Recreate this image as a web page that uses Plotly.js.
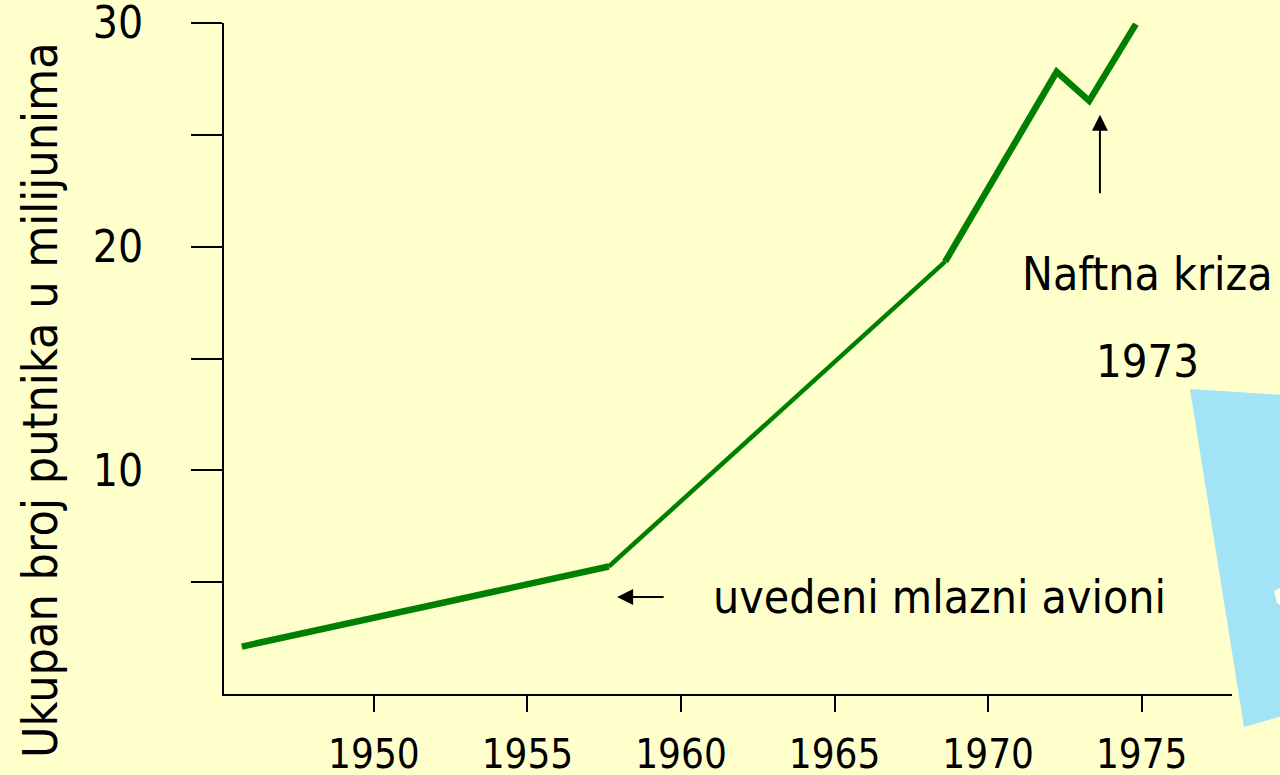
<!DOCTYPE html>
<html>
<head>
<meta charset="utf-8">
<script src="https://cdn.plot.ly/plotly-3.0.1.min.js"></script>
<style>
  html, body { margin: 0; padding: 0; background: #FFFFCC; }
  #chart { width: 1280px; height: 775px; }
</style>
</head>
<body>
<div id="chart"></div>
<script>
// ---- data ----
const years = [1945.7, 1957.65, 1968.6, 1972.23, 1973.29, 1974.81];
const passengers = [2.12, 5.7, 19.33, 27.82, 26.52, 29.95];   // millions
const xTickVals = [1950, 1955, 1960, 1965, 1970, 1975];
const xTickText = ['1950', '1955', '1960', '1965', '1970', '1975'];
const yTickVals = [5, 10, 15, 20, 25, 30];
const yTickText = ['', '10', '', '20', '', '30'];
const yTitle = 'Ukupan broj putnika u milijunima';
const noteJets = 'uvedeni mlazni avioni';
const noteCrisis = 'Naftna kriza';
const noteCrisisYear = '1973';

// ---- styling ----
const FONT = '"DejaVu Sans Condensed", "DejaVu Sans", sans-serif';
const GREEN = '#008000';
const BG = '#FFFFCC';

// segments: thick (pre-jet), thinner (jet era), thick (1968+)
const segs = [[0, 2, 6.5], [1, 3, 4.5], [2, 6, 6.5]];
const traces = segs.map(([a, b, w]) => ({
  type: 'scatter', mode: 'lines',
  x: years.slice(a, b), y: passengers.slice(a, b),
  line: { color: GREEN, width: w, shape: 'linear' },
  hoverinfo: 'skip', showlegend: false
}));

// helpers for decorative coords (pixel -> paper)
const L = 224, R = 48, T = 23, B = 81, W = 1280, H = 775;
const pw = W - L - R, ph = H - T - B;
const px = v => (v - L) / pw;
const py = v => (H - B - v) / ph;
const poly = pts => 'M' + pts.map(p => px(p[0]).toFixed(4) + ',' + py(p[1]).toFixed(4)).join(' L') + ' Z';

const layout = {
  width: W, height: H,
  margin: { l: L, r: R, t: T, b: B },
  paper_bgcolor: BG, plot_bgcolor: BG,
  font: { family: FONT, color: '#000', size: 44 },
  showlegend: false,
  xaxis: {
    range: [1945.12, 1977.94],
    showline: true, linecolor: '#000', linewidth: 2,
    showgrid: false, zeroline: false,
    tickmode: 'array', tickvals: xTickVals, ticktext: xTickText,
    ticks: 'outside', ticklen: 16, tickwidth: 2, tickcolor: '#000',
    tickfont: { family: FONT, size: 40, color: '#000' },
    ticklabelstandoff: 8,
    ticklabeloverflow: 'allow',
    automargin: false,
    fixedrange: true
  },
  yaxis: {
    range: [0, 30],
    showline: true, linecolor: '#000', linewidth: 2,
    showgrid: false, zeroline: false,
    tickmode: 'array', tickvals: yTickVals, ticktext: yTickText,
    ticks: 'outside', ticklen: 31, tickwidth: 2, tickcolor: '#000',
    tickfont: { family: FONT, size: 44, color: '#000' },
    ticklabelstandoff: 39,
    ticklabeloverflow: 'allow',
    automargin: false,
    fixedrange: true
  },
  shapes: [
    { type: 'path', xref: 'paper', yref: 'paper', layer: 'above',
      path: poly([[1190, 389], [1282, 395], [1282, 716], [1244, 727]]),
      fillcolor: '#A2E3F5', line: { width: 0 } },
    { type: 'path', xref: 'paper', yref: 'paper', layer: 'above',
      path: poly([[1274, 591], [1282, 587], [1282, 606], [1277, 603]]),
      fillcolor: '#FFFFE6', line: { width: 0 } }
  ],
  annotations: [
    // y-axis title (placed as rotated text so it can sit lower, as in the reference)
    { xref: 'paper', yref: 'paper', x: px(40), y: py(400), showarrow: false,
      text: yTitle, textangle: -90, font: { family: FONT, size: 48, color: '#000' },
      xanchor: 'center', yanchor: 'middle' },
    { xref: 'x', yref: 'y', x: 1957.92, y: 4.34, ax: 48, ay: 0,
      text: '', showarrow: true, arrowhead: 2, arrowsize: 1.6, arrowwidth: 2, arrowcolor: '#000' },
    { xref: 'x', yref: 'y', x: 1973.64, y: 25.9, ax: 0, ay: 80,
      text: '', showarrow: true, arrowhead: 2, arrowsize: 1.6, arrowwidth: 2, arrowcolor: '#000' },
    { xref: 'x', yref: 'y', x: 1968.4, y: 4.34, showarrow: false,
      text: noteJets, font: { family: FONT, size: 46, color: '#000' }, xanchor: 'center', yanchor: 'middle' },
    { xref: 'x', yref: 'y', x: 1975.2, y: 18.8, showarrow: false,
      text: noteCrisis, font: { family: FONT, size: 46, color: '#000' }, xanchor: 'center', yanchor: 'middle' },
    { xref: 'x', yref: 'y', x: 1975.2, y: 14.85, showarrow: false,
      text: noteCrisisYear, font: { family: FONT, size: 45, color: '#000' }, xanchor: 'center', yanchor: 'middle' }
  ]
};

Plotly.newPlot('chart', traces, layout, { displayModeBar: false, staticPlot: true });
</script>
</body>
</html>
